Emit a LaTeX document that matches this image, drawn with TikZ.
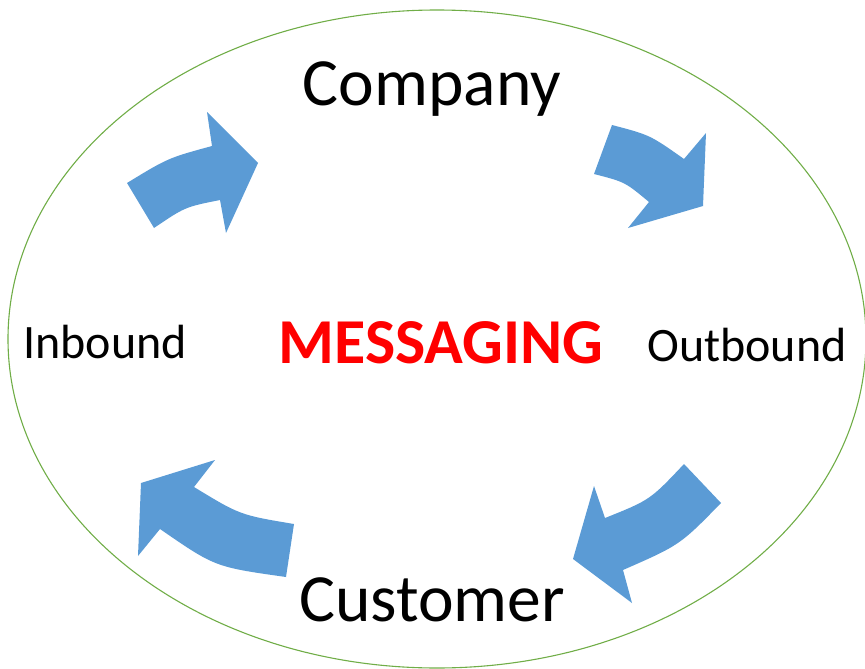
\documentclass[tikz,border=0pt]{standalone}
\usepackage{fontspec}
\setmainfont{Carlito}
\definecolor{arrowblue}{HTML}{5B9BD5}
\definecolor{ringgreen}{HTML}{70AD47}
\definecolor{msgred}{HTML}{FF0000}
\begin{document}
\begin{tikzpicture}[x=1pt,y=-1pt,
  blockarrow/.style={fill=arrowblue,draw=none},
  bigword/.style={font=\fontsize{67.5}{67.5}\selectfont,anchor=base,inner sep=0pt},
  sideword/.style={font=\fontsize{48}{48}\selectfont,anchor=base,inner sep=0pt},
  centreword/.style={font=\fontsize{64}{64}\selectfont\bfseries,text=msgred,anchor=base,inner sep=0pt}]
\useasboundingbox (0,0) rectangle (865,669);
% outer ring
\draw[ringgreen,line width=1.1pt] (437,339) ellipse [x radius=429pt, y radius=329pt];
% labels
\node[bigword] (company) at (432,106) {Company};
\node[bigword] (customer) at (432,621) {Customer};
\node[sideword] (inbound) at (105,358) {Inbound};
\node[sideword] (outbound) at (747,361) {Outbound};
\node[centreword] (messaging) at (441,363) {MESSAGING};
% curved block arrows, clockwise
\fill[blockarrow] (127,183) .. controls (168,158) .. (212,146) -- (207,112) -- (258,163)
  -- (226,233) -- (220,200) .. controls (185,207) .. (154,228) -- cycle;
\fill[blockarrow] (612,125) .. controls (650,135) .. (684,159) -- (706,133) -- (703,206)
  -- (628,228) -- (649,202) .. controls (625,182) .. (594,174) -- cycle;
\fill[blockarrow] (684,464) -- (721,503) .. controls (680,545) .. (623,570) -- (632,603)
  -- (573,559) -- (594,486) -- (605,518) .. controls (650,500) .. (684,464) -- cycle;
\fill[blockarrow] (294,524) -- (286,577) .. controls (215,567) .. (160,529) -- (138,556)
  -- (141,483) -- (215,460) -- (194,487) .. controls (240,515) .. (294,524) -- cycle;
\end{tikzpicture}
\end{document}
